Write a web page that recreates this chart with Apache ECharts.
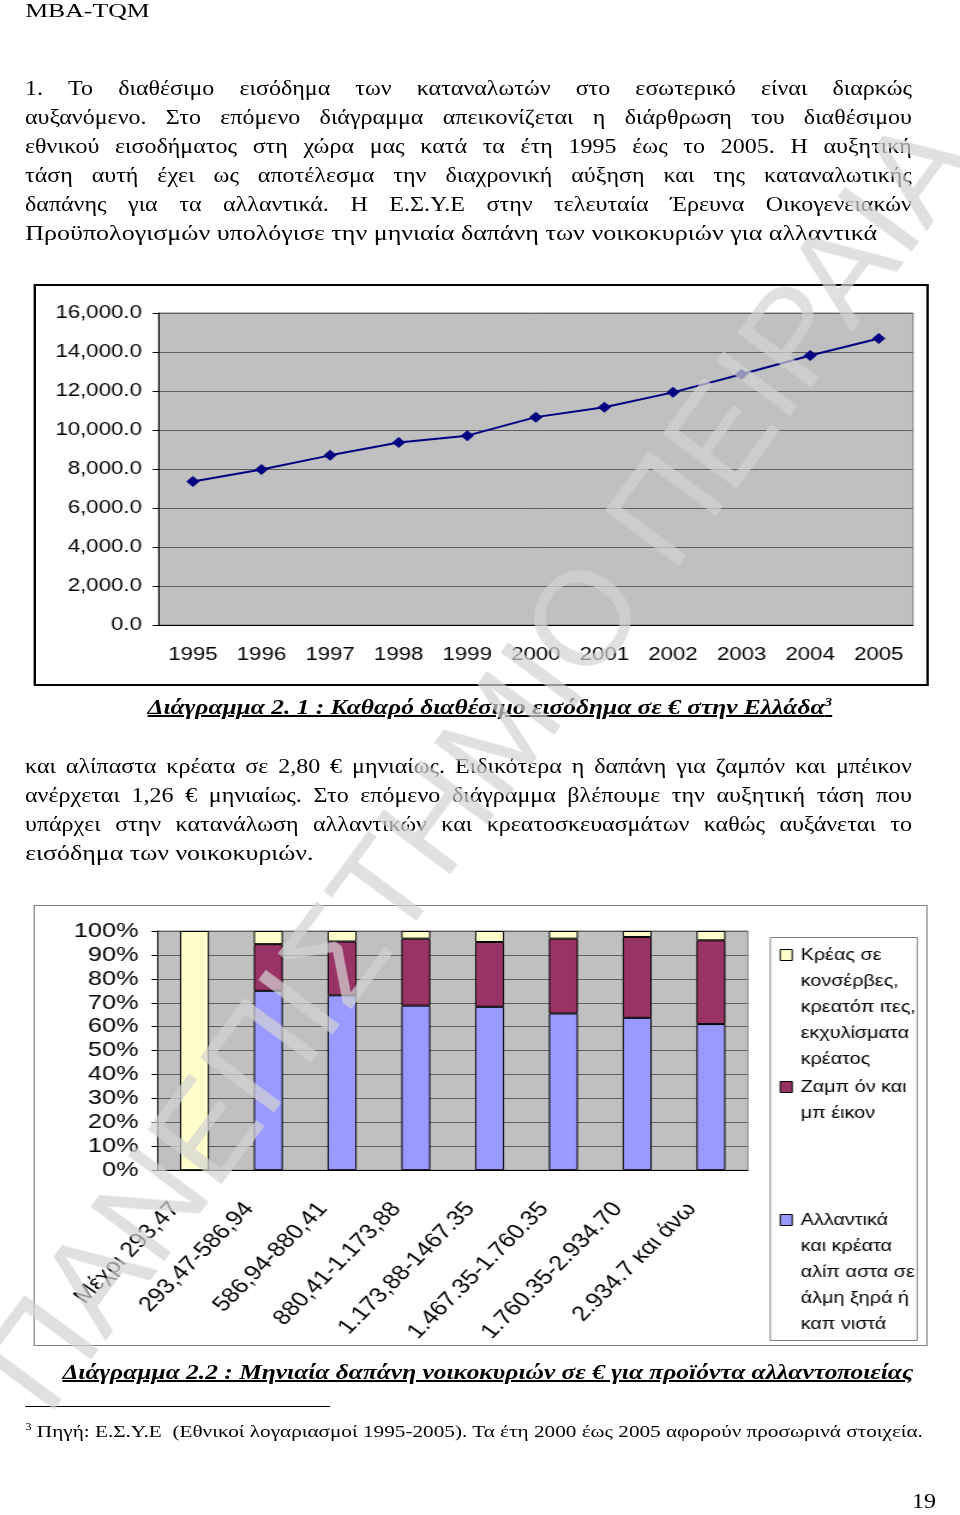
<!DOCTYPE html>
<html lang="el">
<head>
<meta charset="UTF-8">
<title>Διάγραμμα 2.1 - 2.2</title>
<style>
  html, body { margin: 0; padding: 0; background: #fff; }
  body { width: 960px; height: 1515px; overflow: hidden; position: relative; }
  #page { position: absolute; left: 0; top: 0; height: 1515px; transform-origin: 0 0; }
  .t { position: absolute; font-family: "Liberation Serif", "Times New Roman", serif; font-size: 20px; line-height: 29px; color: #000; white-space: nowrap; transform-origin: 0 0; }
  .j { display: flex; justify-content: space-between; }
  .cap { font-weight: bold; font-style: italic; text-decoration: underline; }
  .t sup { font-size: 0.6em; line-height: 0; }
  .frame { position: absolute; box-sizing: border-box; background: #fff; }
  .frame > div { width: 100%; height: 100%; }
  #rule { position: absolute; height: 1px; background: #000; }
  #wm { position: absolute; left: -473px; top: 695.5px; width: 1900px; text-align: center;
        font: 133px/133px "Liberation Sans", Arial, sans-serif; color: rgba(211,211,211,0.7);
        transform: rotate(-53.5deg); pointer-events: none; white-space: nowrap; }
</style>
</head>
<body>
<div id="page">
  <div class="frame" id="f1" style="border:2px solid #000"><div id="c1"></div></div>
  <div class="frame" id="f2" style="border:1px solid #808080"><div id="c2"></div></div>
  <div id="rule"></div>
</div>
<div id="wm">ΠΑΝΕΠΙΣΤΗΜΙΟ ΠΕΙΡΑΙΑ</div>
<script src="https://cdn.jsdelivr.net/npm/echarts@6/dist/echarts.min.js"></script>
<script>
// the picture is stretched sideways, so everything is laid out narrower and scaled back
var S = 1.2;
function px(v) { return v / S; }

// --- data ---
var years = ['1995', '1996', '1997', '1998', '1999', '2000', '2001', '2002', '2003', '2004', '2005'];
var income = [7360, 7970, 8700, 9360, 9710, 10660, 11170, 11930, 12860, 13820, 14690];

var groups = ['Μέχρι 293,47', '293,47-586,94', '586,94-880,41', '880,41-1.173,88',
              '1.173,88-1467.35', '1.467.35-1.760.35', '1.760.35-2.934.70', '2.934.7 και άνω'];
var cured    = [0, 75, 73.1, 68.8, 68.3, 65.5, 63.7, 61.1];
var hamBacon = [0, 19.5, 22.5, 28, 27.1, 31.3, 33.8, 35];
var canned   = [100, 5.5, 4.4, 3.2, 4.6, 3.2, 2.5, 3.9];

var cannedName = ['Κρέας σε', 'κονσέρβες,', 'κρεατόπ ιτες,', 'εκχυλίσματα', 'κρέατος'];
var hamName    = ['Ζαμπ όν και', 'μπ έικον'];
var curedName  = ['Αλλαντικά', 'και κρέατα', 'αλίπ αστα σε', 'άλμη ξηρά ή', 'καπ νιστά'];

// --- page text ---
var page = document.getElementById('page');
page.style.width = px(960) + 'px';
page.style.transform = 'scaleX(' + S + ')';

function addText(str, x, y, o) {
  o = o || {};
  var d = document.createElement('div');
  d.className = 't' + (o.cls ? ' ' + o.cls : '');
  d.style.left = px(x) + 'px';
  d.style.top = y + 'px';
  if (o.size) d.style.fontSize = o.size + 'px';
  if (o.sx) d.style.transform = 'scaleX(' + o.sx + ')';
  if (o.w) {
    d.style.width = px(o.w) + 'px';
    d.classList.add('j');
    str.split(' ').forEach(function (w) {
      var s = document.createElement('span');
      s.textContent = w;
      d.appendChild(s);
    });
  } else {
    d.innerHTML = str;
  }
  page.appendChild(d);
  return d;
}

addText('MBA-TQM', 25, -4, {size: 19.5, sx: 1.1});

var para1 = [
  '1. Το διαθέσιμο εισόδημα των καταναλωτών στο εσωτερικό είναι διαρκώς',
  'αυξανόμενο. Στο επόμενο διάγραμμα απεικονίζεται η διάρθρωση του διαθέσιμου',
  'εθνικού εισοδήματος στη χώρα μας κατά τα έτη 1995 έως το 2005. Η αυξητική',
  'τάση αυτή έχει ως αποτέλεσμα την διαχρονική αύξηση και της καταναλωτικής',
  'δαπάνης για τα αλλαντικά. Η Ε.Σ.Υ.Ε στην τελευταία Έρευνα Οικογενειακών'
];
para1.forEach(function (l, i) { addText(l, 25, 73.5 + 29 * i, {w: 887}); });
addText('Προϋπολογισμών υπολόγισε την μηνιαία δαπάνη των νοικοκυριών για αλλαντικά', 25, 73.5 + 29 * 5, {sx: 1.085});

addText('Διάγραμμα 2. 1 : Καθαρό διαθέσιμο εισόδημα σε € στην Ελλάδα<sup>3</sup>', 148, 693, {cls: 'cap', sx: 1.06});

var para2 = [
  'και αλίπαστα κρέατα σε 2,80 € μηνιαίως. Ειδικότερα η δαπάνη για ζαμπόν και μπέικον',
  'ανέρχεται 1,26 € μηνιαίως. Στο επόμενο διάγραμμα βλέπουμε την αυξητική τάση που',
  'υπάρχει στην κατανάλωση αλλαντικών και κρεατοσκευασμάτων καθώς αυξάνεται το'
];
para2.forEach(function (l, i) { addText(l, 25, 751.5 + 29 * i, {w: 887}); });
addText('εισόδημα των νοικοκυριών.', 25, 751.5 + 29 * 3, {sx: 1.08});

addText('Διάγραμμα 2.2 : Μηνιαία δαπάνη νοικοκυριών σε € για προϊόντα αλλαντοποιείας', 62, 1358, {cls: 'cap', sx: 1.061});

var rule = document.getElementById('rule');
rule.style.left = px(25) + 'px';
rule.style.top = '1406px';
rule.style.width = px(305) + 'px';

addText('<sup>3</sup> Πηγή: Ε.Σ.Υ.Ε &nbsp;(Εθνικοί λογαριασμοί 1995-2005). Τα έτη 2000 έως 2005 αφορούν προσωρινά στοιχεία.', 25, 1416.5, {size: 17, sx: 1.04});
addText('19', 912, 1487);

// --- frames ---
var f1 = document.getElementById('f1');
f1.style.left = px(33) + 'px'; f1.style.top = '284px';
f1.style.width = px(896) + 'px'; f1.style.height = '402px';
var f2 = document.getElementById('f2');
f2.style.left = px(33) + 'px'; f2.style.top = '905px';
f2.style.width = px(895) + 'px'; f2.style.height = '441px';

var sans = '"Liberation Sans", Arial, sans-serif';

// --- chart 2.1 : line ---
var chart1 = echarts.init(document.getElementById('c1'));
chart1.setOption({
  animation: false,
  grid: {
    left: px(158) - px(33) - 2, right: px(17) - 2, top: 27, bottom: 59,
    show: true, backgroundColor: '#c0c0c0', borderColor: '#808080', borderWidth: 1
  },
  xAxis: {
    type: 'category', data: years, boundaryGap: true,
    axisLine: {lineStyle: {color: '#000'}},
    axisTick: {length: 6, lineStyle: {color: '#000'}},
    axisLabel: {color: '#000', fontFamily: sans, fontSize: 18.5, margin: 20, interval: 0}
  },
  yAxis: {
    type: 'value', min: 0, max: 16000, interval: 2000,
    axisLine: {show: true, lineStyle: {color: '#000'}},
    axisTick: {show: true, length: 5, lineStyle: {color: '#000'}},
    splitLine: {lineStyle: {color: '#606060'}},
    axisLabel: {
      color: '#000', fontFamily: sans, fontSize: 18.5, margin: 14,
      formatter: function (v) {
        return v.toLocaleString('en-US', {minimumFractionDigits: 1, maximumFractionDigits: 1});
      }
    }
  },
  series: [{
    type: 'line', data: income, symbol: 'diamond', symbolSize: 11,
    lineStyle: {color: '#000080', width: 2},
    itemStyle: {color: '#000080'}
  }]
});

// --- chart 2.2 : stacked 100% bars ---
var nCanned = cannedName.join(' '), nHam = hamName.join(' '), nCured = curedName.join(' ');
var legendLeft = px(779) - px(33) - 1;

// blank lines in front keep the icon level with the first line of text
function legendFor(name, lines, firstY) {
  var n = lines.length;
  var pad = new Array(n).join('\n');
  return {
    data: [name], orient: 'vertical', left: legendLeft,
    top: firstY - 906 - (2 * n - 1) * 26 / 2,
    padding: 0, selectedMode: false, icon: 'rect',
    itemWidth: 10, itemHeight: 11,
    itemStyle: {borderColor: '#000', borderWidth: 1},
    textStyle: {color: '#000', fontFamily: sans, fontSize: 16.5, lineHeight: 26, padding: [0, 0, 0, 2]},
    formatter: function () { return pad + lines.join('\n'); }
  };
}

var chart2 = echarts.init(document.getElementById('c2'));
var barStyle = {borderColor: '#000', borderWidth: 1};
chart2.setOption({
  animation: false,
  grid: {
    left: px(157) - px(33) - 1, right: px(181) - 1, top: 25, bottom: 173,
    show: true, backgroundColor: '#c0c0c0', borderColor: '#808080', borderWidth: 1
  },
  graphic: [{
    type: 'rect', left: px(769) - px(33) - 1, top: 31, z: 0,
    shape: {width: px(147), height: 403},
    style: {fill: '#fff', stroke: '#808080', lineWidth: 1}
  }],
  legend: [
    legendFor(nCanned, cannedName, 955),
    legendFor(nHam, hamName, 1087),
    legendFor(nCured, curedName, 1220)
  ],
  xAxis: {
    type: 'category', data: groups, boundaryGap: true,
    axisLine: {lineStyle: {color: '#000'}},
    axisTick: {length: 7, lineStyle: {color: '#000'}},
    axisLabel: {color: '#000', fontFamily: sans, fontSize: 21, rotate: 50, margin: 16,
                interval: 0, padding: [0, 25, 0, 0]}
  },
  yAxis: {
    type: 'value', min: 0, max: 100, interval: 10,
    axisLine: {show: true, lineStyle: {color: '#000'}},
    axisTick: {show: true, length: 5, lineStyle: {color: '#000'}},
    splitLine: {lineStyle: {color: '#606060'}},
    axisLabel: {color: '#000', fontFamily: sans, fontSize: 21, margin: 16, formatter: '{value}%'}
  },
  series: [
    {name: nCured, type: 'bar', stack: 'p', data: cured, barWidth: px(29), itemStyle: Object.assign({color: '#9999ff'}, barStyle)},
    {name: nHam, type: 'bar', stack: 'p', data: hamBacon, itemStyle: Object.assign({color: '#993366'}, barStyle)},
    {name: nCanned, type: 'bar', stack: 'p', data: canned, itemStyle: Object.assign({color: '#ffffcc'}, barStyle)}
  ]
});
</script>
</body>
</html>
